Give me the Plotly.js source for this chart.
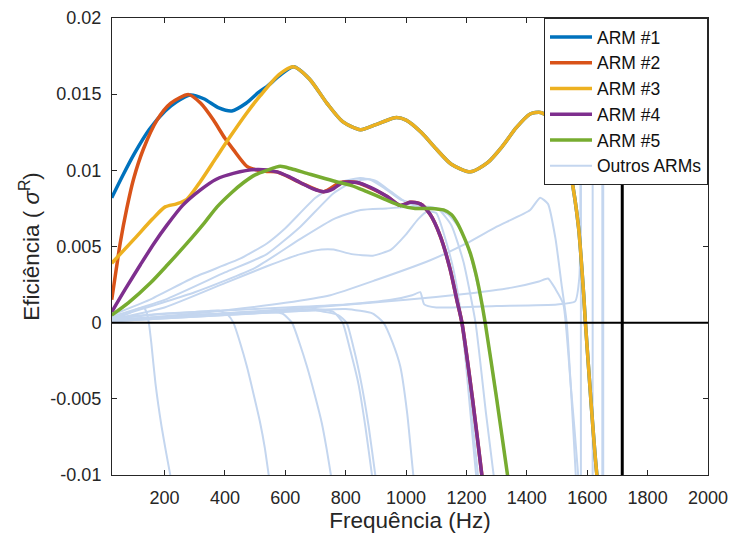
<!DOCTYPE html>
<html><head><meta charset="utf-8">
<script src="https://cdn.plot.ly/plotly-3.0.1.min.js"></script>
<style>html,body{margin:0;padding:0;background:#fff}#chart{width:734px;height:538px}</style>
</head><body><div id="chart"></div>
<script>
// ---- data (frequency in Hz, efficiency sigma^R) ----
const arm1F = [25,60,100,150,202,240,285,330,380,423,470,510,539,580,627,680,738,790,849,900,964,1000,1050,1100,1150,1213,1270,1320,1365,1411,1445,1480,1515,1545,1571,1588,1594,1632,1640];
const arm1V = [0.0082,0.0096,0.0111,0.0127,0.0139,0.0145,0.01495,0.0147,0.0141,0.0139,0.0144,0.0151,0.0155,0.0162,0.0168,0.0160,0.0144,0.0132,0.01267,0.0130,0.01346,0.0133,0.0125,0.0114,0.0104,0.0099,0.0105,0.0116,0.0128,0.0137,0.0138,0.0134,0.0124,0.0098,0.0063,0.0019,0.0,-0.01,-0.0112];

const arm2F = [25,40,53,75,97,130,175,220,280,320,362,400,428,473,510,539,572,649,727,782,837,936,980,1013,1047,1080,1113,1146,1168,1185,1220,1251,1256];
const arm2V = [0.0015,0.0035,0.0052,0.0075,0.0094,0.0114,0.0133,0.0144,0.01497,0.0144,0.0133,0.0121,0.01136,0.01026,0.0100,0.00993,0.0099,0.0092,0.0086,0.0092,0.0092,0.0083,0.0077,0.0079,0.0078,0.0071,0.0057,0.0035,0.0015,0.0,-0.005,-0.01,-0.0108];

const arm3F = [25,100,160,202,240,274,320,370,417,470,517,580,627,680,738,790,849,900,964,1000,1050,1100,1150,1213,1270,1320,1365,1411,1445,1480,1515,1545,1571,1588,1594,1632,1640];
const arm3V = [0.0039,0.0055,0.0068,0.0076,0.0078,0.0081,0.0093,0.0108,0.0122,0.0137,0.0149,0.0163,0.0168,0.0160,0.0144,0.0132,0.01267,0.0130,0.01346,0.0133,0.0125,0.0114,0.0104,0.0099,0.0105,0.0116,0.0128,0.0137,0.0138,0.0134,0.0124,0.0098,0.0063,0.0019,0.0,-0.01,-0.0112];

const arm4F = [25,70,120,165,208,260,318,370,428,506,572,610,649,690,727,760,790,837,880,936,980,1000,1013,1047,1080,1113,1146,1168,1185,1220,1251,1256];
const arm4V = [0.0007,0.0022,0.0038,0.0052,0.0064,0.0077,0.0087,0.0094,0.0098,0.01005,0.0099,0.0096,0.0092,0.0088,0.0086,0.0088,0.0092,0.0092,0.0089,0.0083,0.0077,0.0078,0.0079,0.0078,0.0071,0.0057,0.0035,0.0015,0.0,-0.005,-0.01,-0.0108];

const arm5F = [25,80,153,210,274,330,374,420,462,500,539,583,620,672,760,820,870,930,980,1030,1080,1124,1150,1168,1190,1212,1230,1245,1262,1300,1336,1342];
const arm5V = [0.0005,0.0013,0.0026,0.0038,0.0052,0.0065,0.0076,0.0085,0.0092,0.0097,0.0100,0.01026,0.0101,0.0098,0.0093,0.0090,0.0086,0.0081,0.0077,0.0075,0.0075,0.0074,0.0071,0.0066,0.0057,0.0046,0.0033,0.0019,0.0,-0.005,-0.01,-0.0108];

// other ARMs (light blue)
const o1F = [25,150,300,450,539,600,700,780,848,900,950,1000,1050,1100,1140,1180,1212,1240,1262,1300,1336,1345];
const o1V = [0.0005,0.0015,0.003,0.0042,0.0052,0.0062,0.0082,0.0092,0.0095,0.0093,0.0086,0.0079,0.0076,0.0075,0.0071,0.0061,0.0045,0.0022,0.0,-0.0048,-0.01,-0.0112];
const o2F = [25,200,400,539,650,760,830,880,930,980,1013,1050,1080,1113,1146,1180,1210,1238,1246];
const o2V = [0.0004,0.0015,0.0033,0.0045,0.0063,0.0085,0.0093,0.0094,0.0088,0.0081,0.0079,0.0077,0.0071,0.0057,0.0035,0.0003,-0.0045,-0.01,-0.0112];
const o3F = [25,200,400,539,650,720,760,820,890,950,1000,1040,1070,1100,1130,1160,1185,1232,1240];
const o3V = [0.0002,0.001,0.0026,0.0037,0.0045,0.0048,0.0048,0.0045,0.0044,0.0048,0.0058,0.0068,0.0073,0.0072,0.0055,0.0032,0.0,-0.01,-0.0112];
const o4F = [25,300,500,650,760,850,936,1000,1080,1110,1150,1190,1230,1265,1290,1297];
const o4V = [0.0003,0.002,0.0036,0.0055,0.0068,0.0074,0.0075,0.0076,0.0076,0.0074,0.0064,0.004,0.0,-0.006,-0.01,-0.0112];
const o5F = [25,300,600,749,900,1080,1200,1300,1411,1444,1470,1495,1515,1532,1548,1562,1566];
const o5V = [0.0001,0.0006,0.0013,0.0018,0.0028,0.0041,0.0052,0.0063,0.0074,0.0082,0.0078,0.0055,0.0025,0.0,-0.005,-0.01,-0.012];
const o6F = [25,400,749,1000,1200,1350,1440,1470,1495,1521,1545,1570,1574];
const o6V = [0.0002,0.0006,0.0011,0.0015,0.0019,0.0023,0.0027,0.0029,0.0022,0.0012,-0.004,-0.01,-0.012];
const o7F = [25,200,400,600,800,950,1020,1047,1060,1100,1300,1500,1560,1574,1578,1579];
const o7V = [0.0003,0.0006,0.0008,0.001,0.0012,0.0015,0.0018,0.002,0.0012,0.001,0.0011,0.0012,0.0014,0.003,0.012,0.03];
const n1F = [25,80,110,130,140,148,156,170,190,205,219,224];
const n1V = [0.0002,0.0006,0.0009,0.001,0.0007,0.0,-0.0013,-0.004,-0.0068,-0.0085,-0.01,-0.0106];
const n2F = [25,150,300,380,410,428,450,473,495,517,532,545,550];
const n2V = [0.0002,0.0005,0.0007,0.0008,0.0005,0.0,-0.0013,-0.0029,-0.0047,-0.0066,-0.0082,-0.01,-0.0107];
const n3F = [25,300,500,590,622,648,672,697,721,737,751,756];
const n3V = [0.0001,0.0005,0.0007,0.0006,0.0,-0.0014,-0.0029,-0.0047,-0.0066,-0.0083,-0.01,-0.0107];
const n4F = [25,400,700,760,790,815,842,865,887,892];
const n4V = [0.0001,0.0006,0.0009,0.0007,0.0,-0.0018,-0.004,-0.0068,-0.01,-0.0107];
const n5F = [25,400,700,775,803,828,852,876,898,903];
const n5V = [0.0001,0.0005,0.0008,0.0005,0.0,-0.0018,-0.004,-0.0068,-0.01,-0.0107];
const n6F = [25,500,800,890,925,955,981,1004,1024,1030];
const n6V = [0.0001,0.0006,0.0009,0.0006,0.0,-0.0013,-0.0029,-0.006,-0.01,-0.0108];
// near-vertical resonances
const poleF  = [1579,1618,1650,1653];
const poleHi = [0.03,0.03,0.03,0.03];
const poleLo = [-0.03,-0.03,-0.03,-0.03];

const refFreq = [1716];
const xTicks = [200,400,600,800,1000,1200,1400,1600,1800,2000];
const yTicks = [-0.01,-0.005,0,0.005,0.01,0.015,0.02];
const yTickText = ['-0.01','-0.005','0','0.005','0.01','0.015','0.02'];

const names = ['ARM #1','ARM #2','ARM #3','ARM #4','ARM #5','Outros ARMs'];
const colors = ['#0072BD','#D95319','#EDB120','#7E2F8E','#77AC30','rgb(196,214,239)'];

// ---- build ----
const otherF = [], otherV = [];
[[o1F,o1V],[o2F,o2V],[o3F,o3V],[o4F,o4V],[o5F,o5V],[o6F,o6V],[o7F,o7V],
 [n1F,n1V],[n2F,n2V],[n3F,n3V],[n4F,n4V],[n5F,n5V],[n6F,n6V]].forEach(([f,v]) => {
  otherF.push(...f, null); otherV.push(...v, null);
});
poleF.forEach((f,i) => { otherF.push(f, f, null); otherV.push(poleHi[i], poleLo[i], null); });

const traces = [];
traces.push({x: otherF, y: otherV, type:'scatter', mode:'lines', name: names[5],
  line:{color: colors[5], width:2, shape:'spline', smoothing:0.5}, connectgaps:false, legendrank:2000});
const arms = [[arm1F,arm1V],[arm2F,arm2V],[arm3F,arm3V],[arm4F,arm4V],[arm5F,arm5V]];
arms.forEach(([f,v],i) => traces.push({x:f, y:v, type:'scatter', mode:'lines', name:names[i],
  line:{color:colors[i], width:3.5, shape:'spline', smoothing:0.7}, legendrank:1000+i}));

const fontFam = '"Liberation Sans", Arial, Helvetica, sans-serif';
const axisCommon = {showline:true, linecolor:'#262626', linewidth:1, mirror:'ticks', ticks:'inside',
  ticklen:5, tickcolor:'#262626', showgrid:false, zeroline:false, tickfont:{family:fontFam, size:18, color:'#262626'}};

const layout = {
  width:734, height:538, paper_bgcolor:'#fff', plot_bgcolor:'#fff',
  margin:{l:112, r:26, t:18, b:63},
  font:{family:fontFam, color:'#262626'},
  showlegend:true,
  xaxis: Object.assign({}, axisCommon, {range:[26,2000], tickvals:xTicks, ticklabelstandoff:6,
    title:{text:'Frequência (Hz)', font:{size:22.5, family:fontFam, color:'#262626'}, standoff:5}}),
  yaxis: Object.assign({}, axisCommon, {range:[-0.01,0.02], tickvals:yTicks, ticktext:yTickText, ticklabelstandoff:6,
    title:{text:'Eficiência ( <i>σ</i><sup>R</sup>)', font:{size:22.5, family:fontFam, color:'#262626'}, standoff:4}}),
  legend:{x:1, y:1, xanchor:'right', yanchor:'top', bgcolor:'#fff', bordercolor:'#262626', borderwidth:1,
    font:{family:fontFam, size:17.5, color:'#111'}, itemwidth:42, tracegroupgap:0},
  shapes:[
    {type:'line', xref:'x', yref:'y', x0:26, x1:2000, y0:0, y1:0, line:{color:'#000', width:2}},
    {type:'line', xref:'x', yref:'paper', x0:refFreq[0], x1:refFreq[0], y0:0, y1:1, line:{color:'#000', width:3}, layer:'below'}
  ]
};
Plotly.newPlot('chart', traces, layout, {displayModeBar:false, staticPlot:true});
</script>
</body></html>
